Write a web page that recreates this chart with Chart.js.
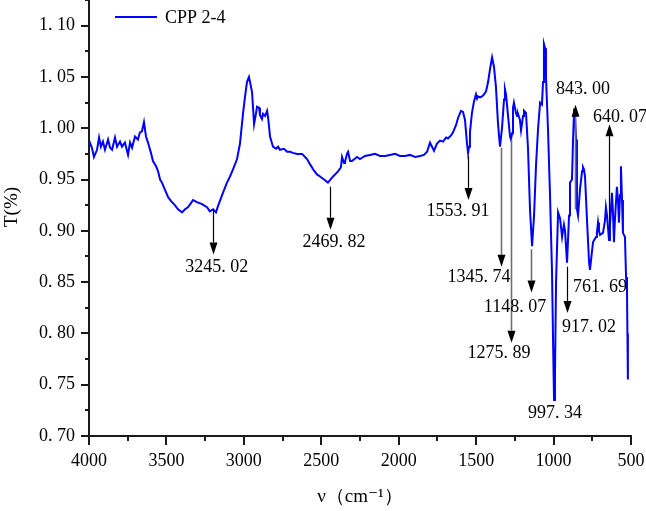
<!DOCTYPE html>
<html>
<head>
<meta charset="utf-8">
<script src="https://cdn.jsdelivr.net/npm/chart.js@4.4.1/dist/chart.umd.min.js"></script>
<style>
  html, body { margin: 0; padding: 0; background: #fff; }
  canvas { display: block; }
</style>
</head>
<body>
<canvas id="ftir" width="646" height="511"></canvas>
<script>
// Series name shown in the legend.
const SERIES_NAME = "CPP 2-4";

// Wavenumber (cm-1) and transmittance.
const wavenumbers = [
  4000, 3994, 3981, 3968, 3948, 3935, 3923, 3910, 3897, 3877, 3864, 3851, 3832, 3819, 3800,
  3787, 3768, 3748, 3735, 3722, 3703, 3684, 3671, 3658, 3645, 3632, 3619, 3600, 3587, 3567,
  3554, 3541, 3529, 3509, 3490, 3470, 3451, 3425, 3399, 3380, 3361, 3328, 3303, 3270, 3238,
  3219, 3199, 3180, 3167, 3135, 3109, 3089, 3070, 3044, 3025, 3005, 2993, 2980, 2967, 2960,
  2947, 2934, 2921, 2915, 2902, 2896, 2883, 2876, 2863, 2850, 2844, 2831, 2812, 2792, 2779,
  2767, 2741, 2721, 2702, 2683, 2657, 2624, 2605, 2592, 2573, 2553, 2528, 2508, 2482, 2457,
  2424, 2392, 2373, 2366, 2353, 2347, 2334, 2327, 2314, 2302, 2269, 2250, 2218, 2185, 2153,
  2121, 2088, 2056, 2024, 1992, 1959, 1927, 1895, 1862, 1837, 1817, 1798, 1785, 1772, 1753,
  1733, 1714, 1694, 1682, 1662, 1649, 1630, 1617, 1598, 1585, 1572, 1559, 1552, 1546, 1540,
  1527, 1514, 1501, 1494, 1488, 1475, 1462, 1449, 1436, 1423, 1410, 1397, 1385, 1372, 1359,
  1346, 1333, 1320, 1314, 1307, 1294, 1281, 1275, 1268, 1262, 1256, 1243, 1236, 1230, 1217,
  1210, 1197, 1191, 1178, 1165, 1152, 1139, 1126, 1113, 1100, 1087, 1075, 1068, 1062, 1055,
  1049, 1036, 1023, 1010, 1003, 997, 991, 984, 971, 958, 945, 933, 926, 913, 900,
  894, 881, 875, 868, 862, 855, 849, 842, 829, 816, 810, 804, 797, 784, 771,
  765, 752, 745, 726, 720, 713, 707, 700, 681, 668, 662, 655, 642, 636, 623,
  617, 610, 604, 591, 584, 578, 571, 565, 558, 552, 539, 532, 526, 523, 520
];

const transmittance = [
  0.983, 0.986, 0.981, 0.972, 0.979, 0.991, 0.982, 0.987, 0.979, 0.989, 0.981, 0.979, 0.991, 0.982, 0.987,
  0.982, 0.986, 0.974, 0.986, 0.981, 0.992, 0.989, 0.996, 0.997, 1.006, 0.992, 0.986, 0.976, 0.968, 0.963,
  0.958, 0.950, 0.947, 0.940, 0.933, 0.929, 0.926, 0.921, 0.918, 0.921, 0.923, 0.930, 0.928, 0.926, 0.923,
  0.919, 0.921, 0.918, 0.924, 0.937, 0.947, 0.953, 0.960, 0.970, 0.985, 1.015, 1.030, 1.045, 1.050, 1.045,
  1.035, 1.004, 1.015, 1.021, 1.020, 1.013, 1.009, 1.014, 1.012, 1.017, 1.011, 0.992, 0.982, 0.980, 0.982,
  0.979, 0.980, 0.977, 0.977, 0.976, 0.975, 0.975, 0.972, 0.970, 0.965, 0.960, 0.955, 0.953, 0.950, 0.947,
  0.953, 0.958, 0.962, 0.972, 0.966, 0.967, 0.975, 0.977, 0.968, 0.968, 0.972, 0.970, 0.973, 0.974, 0.975,
  0.973, 0.973, 0.974, 0.975, 0.973, 0.973, 0.974, 0.972, 0.973, 0.974, 0.977, 0.986, 0.982, 0.978, 0.985,
  0.988, 0.987, 0.991, 0.990, 0.993, 0.996, 1.003, 1.010, 1.017, 1.016, 1.008, 0.985, 0.976, 0.982, 0.996,
  1.015, 1.026, 1.033, 1.029, 1.031, 1.030, 1.031, 1.033, 1.036, 1.045, 1.058, 1.069, 1.060, 1.040, 1.005,
  0.982, 1.000, 1.028, 1.038, 1.033, 1.012, 0.992, 0.989, 0.995, 1.020, 1.025, 1.015, 1.012, 1.014, 1.008,
  0.998, 1.012, 1.017, 1.015, 0.980, 0.920, 0.885, 0.915, 0.965, 1.000, 1.025, 1.023, 1.045, 1.082, 1.078,
  1.050, 0.999, 0.935, 0.860, 0.790, 0.735, 0.760, 0.850, 0.918, 0.912, 0.894, 0.906, 0.900, 0.869, 0.915,
  0.947, 0.950, 0.985, 1.016, 1.014, 0.989, 0.921, 0.915, 0.941, 0.958, 0.962, 0.960, 0.953, 0.910, 0.870,
  0.862, 0.880, 0.889, 0.894, 0.898, 0.908, 0.900, 0.896, 0.898, 0.910, 0.923, 0.915, 0.891, 0.905, 0.937,
  0.920, 0.889, 0.910, 0.943, 0.930, 0.908, 0.935, 0.963, 0.930, 0.898, 0.894, 0.855, 0.843, 0.800, 0.755
];

// Peak annotations: label text, arrow x, arrow start/end (T), label centre.
const peakLabels = ["3245.02", "2469.82", "1553.91", "1345.74", "1275.89", "1148.07",
                    "997.34", "917.02", "761.69", "843.00", "640.07"];
const arrowX     = [3199, 2444, 1552, 1339, 1275, 1146, null, 913, null, 862, 642];
const arrowFrom  = [0.921, 0.943, 0.973, 0.981, 0.989, 0.882, null, 0.865, null, 0.921, 0.891];
const arrowTo    = [0.877, 0.901, 0.930, 0.865, 0.791, 0.840, null, 0.820, null, 1.023, 1.004];
const labelX     = [3175, 2418, 1617, 1481, 1353, 1249, 990, 771, 700, 810, 571];
const labelY     = [0.864, 0.889, 0.919, 0.855, 0.781, 0.825, 0.722, 0.806, 0.845, 1.038, 1.011];
const arrowGray  = [false, false, false, true, true, true, false, false, false, true, false];

const SERIF = "'Liberation Serif', 'DejaVu Serif', serif";
const AXIS_COLOR = "#1a1a1a";

// Origin style "1. 10" number formatting.
function spaced(text) {
    return text.replace(".", ". ");
}

function isMajor(value, step) {
    return Math.abs(Math.round(value * 1000) % step) < 1;
}

// Draws major/minor tick marks outside the axes, the y title, legend and peak annotations.
const decorations = {
    id: "decorations",
    afterDraw(chart) {
        const ctx = chart.ctx;
        const xs = chart.scales.x;
        const ys = chart.scales.y;
        const area = chart.chartArea;

        ctx.save();
        ctx.strokeStyle = AXIS_COLOR;
        ctx.lineWidth = 2;
        ys.ticks.forEach(t => {
            const y = Math.round(ys.getPixelForValue(t.value));
            const len = isMajor(t.value, 50) ? 8 : 4;
            ctx.beginPath();
            ctx.moveTo(area.left, y);
            ctx.lineTo(area.left - len, y);
            ctx.stroke();
        });
        xs.ticks.forEach(t => {
            const x = Math.round(xs.getPixelForValue(t.value));
            const len = (t.value % 500 === 0) ? 9 : 5;
            ctx.beginPath();
            ctx.moveTo(x, area.bottom);
            ctx.lineTo(x, area.bottom + len);
            ctx.stroke();
        });

        // y axis title
        ctx.save();
        ctx.translate(12, 207);
        ctx.rotate(-Math.PI / 2);
        ctx.fillStyle = "#000";
        ctx.font = "19px " + SERIF;
        ctx.textAlign = "center";
        ctx.textBaseline = "middle";
        ctx.fillText("T(%)", 0, 0);
        ctx.restore();

        // legend
        ctx.strokeStyle = "#0000ff";
        ctx.lineWidth = 2;
        ctx.beginPath();
        ctx.moveTo(115, 17);
        ctx.lineTo(157, 17);
        ctx.stroke();
        ctx.fillStyle = "#000";
        ctx.font = "18px " + SERIF;
        ctx.textAlign = "left";
        ctx.textBaseline = "middle";
        ctx.fillText(SERIES_NAME, 165, 18);

        // peak arrows and labels
        for (let i = 0; i < peakLabels.length; ++i) {
            if (arrowX[i] !== null) {
                const x = Math.round(xs.getPixelForValue(arrowX[i])) + 0.5;
                const y0 = ys.getPixelForValue(arrowFrom[i]);
                const y1 = ys.getPixelForValue(arrowTo[i]);
                const dir = y1 > y0 ? 1 : -1;
                const head = 12;
                ctx.strokeStyle = arrowGray[i] ? "#6e6e6e" : "#000";
                ctx.lineWidth = arrowGray[i] ? 1.6 : 1.2;
                ctx.beginPath();
                ctx.moveTo(x, y0);
                ctx.lineTo(x, y1 - dir * head);
                ctx.stroke();
                ctx.fillStyle = "#000";
                ctx.beginPath();
                ctx.moveTo(x, y1);
                ctx.lineTo(x - 4, y1 - dir * head);
                ctx.lineTo(x + 4, y1 - dir * head);
                ctx.closePath();
                ctx.fill();
            }
            ctx.fillStyle = "#000";
            ctx.font = "18px " + SERIF;
            ctx.textAlign = "center";
            ctx.textBaseline = "middle";
            ctx.fillText(spaced(peakLabels[i]),
                xs.getPixelForValue(labelX[i]), ys.getPixelForValue(labelY[i]));
        }
        ctx.restore();
    }
};

new Chart(document.getElementById("ftir"), {
    type: "line",
    data: {
        datasets: [{
            label: SERIES_NAME,
            data: wavenumbers.map((v, i) => ({ x: v, y: transmittance[i] })),
            borderColor: "#0000ff",
            borderWidth: 2,
            pointRadius: 0,
            tension: 0,
            fill: false,
        }]
    },
    options: {
        responsive: false,
        animation: false,
        layout: { padding: { top: 0, right: 15, left: 0, bottom: 0 } },
        plugins: {
            legend: { display: false },
            tooltip: { enabled: false },
        },
        scales: {
            x: {
                type: "linear",
                reverse: true,
                min: 500,
                max: 4000,
                afterFit(scale) {
                    scale.height = 75;
                    scale.paddingLeft = 0;
                    scale.paddingRight = 0;
                },
                grid: { display: true, drawOnChartArea: false, drawTicks: false },
                border: { display: true, color: AXIS_COLOR, width: 2 },
                ticks: {
                    stepSize: 250,
                    autoSkip: false,
                    maxRotation: 0,
                    padding: 14,
                    color: "#000",
                    font: { family: SERIF, size: 18 },
                    callback: v => (v % 500 === 0 ? String(v) : ""),
                },
                title: {
                    display: true,
                    text: "ν（cm⁻¹）",
                    color: "#000",
                    font: { family: SERIF, size: 19 },
                    padding: { top: 0, bottom: 3 },
                },
            },
            y: {
                min: 0.7,
                max: 1.125,
                afterFit(scale) {
                    scale.width = 89;
                    scale.paddingTop = 0;
                    scale.paddingBottom = 0;
                },
                grid: { display: true, drawOnChartArea: false, drawTicks: false },
                border: { display: true, color: AXIS_COLOR, width: 2 },
                ticks: {
                    stepSize: 0.025,
                    autoSkip: false,
                    padding: 14,
                    color: "#000",
                    font: { family: SERIF, size: 18 },
                    callback: v => (isMajor(v, 50) ? spaced(v.toFixed(2)) : ""),
                },
                title: { display: false },
            },
        },
    },
    plugins: [decorations],
});
</script>
</body>
</html>
